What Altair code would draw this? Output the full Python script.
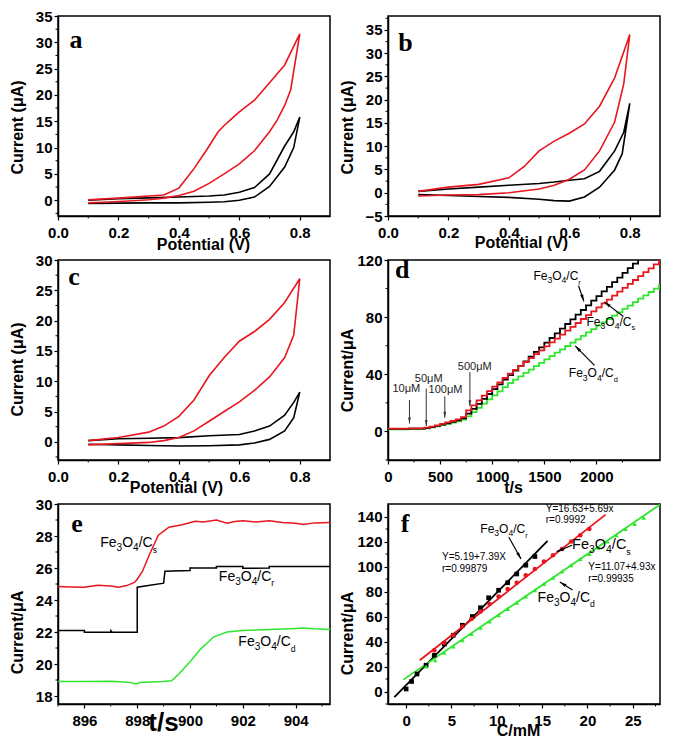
import math
import altair as alt
import pandas as pd

W, H = 272, 200
FONT = "Liberation Sans"
SERIF = "Liberation Serif"
RED = "#e8161e"
GREEN = "#2ee62e"
BLACK = "#000000"
ARROW = "M0,0L0.5,2.2L-0.5,2.2Z"

# ---------------- panel a (CV) ----------------
a_black_fwd_x = [0.10, 0.20, 0.30, 0.40, 0.50, 0.55, 0.60, 0.65, 0.70, 0.75, 0.78, 0.80]
a_black_fwd_y = [-0.6, -0.55, -0.5, -0.5, -0.4, -0.3, 0.0, 0.6, 2.6, 6.3, 10.0, 15.8]
a_black_rev_x = [0.80, 0.78, 0.75, 0.70, 0.65, 0.60, 0.55, 0.50, 0.40, 0.30, 0.20, 0.10]
a_black_rev_y = [15.8, 13.0, 10.3, 5.0, 2.4, 1.5, 1.0, 0.8, 0.6, 0.45, 0.3, 0.0]
a_red_fwd_x = [0.10, 0.15, 0.20, 0.25, 0.30, 0.35, 0.40, 0.45, 0.50, 0.55, 0.60, 0.65, 0.70, 0.725, 0.75, 0.77, 0.80]
a_red_fwd_y = [-0.5, -0.4, -0.25, -0.1, 0.1, 0.4, 0.9, 1.7, 3.2, 5.0, 6.9, 9.4, 13.0, 15.2, 18.0, 21.0, 31.6]
a_red_rev_x = [0.80, 0.75, 0.70, 0.65, 0.60, 0.575, 0.55, 0.53, 0.50, 0.49, 0.45, 0.40, 0.35, 0.30, 0.20, 0.10]
a_red_rev_y = [31.6, 25.7, 22.3, 19.0, 16.8, 15.5, 14.2, 13.0, 10.3, 9.4, 6.0, 2.3, 1.0, 0.8, 0.4, 0.1]

# ---------------- panel b (CV) ----------------
b_black_fwd_x = [0.10, 0.20, 0.30, 0.40, 0.50, 0.55, 0.60, 0.65, 0.70, 0.75, 0.775, 0.80]
b_black_fwd_y = [-0.4, -0.6, -0.8, -1.0, -1.4, -1.7, -1.8, -0.9, 1.2, 4.9, 8.4, 19.2]
b_black_rev_x = [0.80, 0.78, 0.75, 0.70, 0.65, 0.60, 0.55, 0.50, 0.40, 0.30, 0.20, 0.10]
b_black_rev_y = [19.2, 13.0, 9.0, 4.6, 3.0, 2.7, 2.3, 2.0, 1.6, 1.2, 0.8, 0.3]
b_red_fwd_x = [0.10, 0.20, 0.30, 0.40, 0.50, 0.55, 0.60, 0.65, 0.70, 0.75, 0.78, 0.80]
b_red_fwd_y = [-0.7, -0.5, -0.4, 0.0, 0.8, 1.6, 2.9, 4.9, 9.0, 15.2, 23.4, 34.0]
b_red_rev_x = [0.80, 0.75, 0.70, 0.65, 0.60, 0.55, 0.50, 0.45, 0.40, 0.30, 0.20, 0.10]
b_red_rev_y = [34.0, 24.7, 18.6, 14.8, 12.8, 11.1, 9.0, 5.6, 3.2, 1.8, 1.2, 0.3]

# ---------------- panel c (CV) ----------------
c_black_fwd_x = [0.10, 0.20, 0.30, 0.40, 0.50, 0.60, 0.65, 0.70, 0.75, 0.78, 0.80]
c_black_fwd_y = [-0.4, -0.5, -0.6, -0.7, -0.65, -0.5, -0.2, 0.4, 1.8, 4.0, 8.2]
c_black_rev_x = [0.80, 0.78, 0.75, 0.70, 0.65, 0.60, 0.50, 0.40, 0.30, 0.20, 0.10]
c_black_rev_y = [8.2, 6.5, 4.4, 2.6, 1.8, 1.2, 1.0, 0.7, 0.6, 0.5, 0.2]
c_red_fwd_x = [0.10, 0.20, 0.30, 0.35, 0.40, 0.45, 0.50, 0.55, 0.60, 0.65, 0.70, 0.75, 0.78, 0.80]
c_red_fwd_y = [-0.5, -0.3, -0.1, 0.2, 0.7, 1.8, 3.4, 5.0, 6.6, 8.5, 10.7, 13.9, 17.6, 26.9]
c_red_rev_x = [0.80, 0.75, 0.70, 0.65, 0.60, 0.55, 0.50, 0.45, 0.40, 0.35, 0.30, 0.20, 0.10]
c_red_rev_y = [26.9, 23.0, 20.2, 18.2, 16.6, 13.9, 10.9, 6.9, 4.2, 2.6, 1.6, 0.7, 0.2]

# ---------------- panel d (amperometric i-t) ----------------
d_t = [0, 200, 350, 400, 450, 500, 550, 600, 650, 700, 750, 800, 850, 900, 950, 1000,
       1050, 1100, 1150, 1200, 1250, 1300, 1350, 1400, 1450, 1500, 1550, 1600, 1650,
       1700, 1750, 1800, 1850, 1900, 1950, 2000, 2050, 2100, 2150, 2200, 2250, 2300,
       2350, 2400, 2450, 2500, 2550, 2600, 2610]
d_black = [1.8, 2.0, 2.4, 3.1, 3.9, 4.8, 5.7, 6.7, 7.8, 9.2, 12.5, 15.8, 19.3, 22.8, 26.2,
           29.6, 32.9, 36.2, 39.4, 42.6, 45.9, 49.1, 52.4, 55.7, 58.9, 62.2, 65.4, 68.7,
           71.9, 75.2, 78.4, 81.7, 85.0, 88.2, 91.5, 94.7, 98.0, 101.2, 104.5, 107.7,
           111.0, 114.3, 117.5, 120.8, 124.0, 127.3, 130.5, 133.8, 133.8]
d_red = [2.0, 2.1, 2.6, 3.4, 4.3, 5.3, 6.3, 7.3, 8.5, 10.0, 14.8, 18.3, 21.7, 25.0, 28.2,
         31.3, 34.4, 37.4, 40.4, 43.1, 45.9, 48.6, 51.3, 54.1, 56.8, 59.5, 62.3, 65.0,
         67.7, 70.5, 73.2, 75.9, 78.7, 81.4, 84.1, 86.9, 89.6, 92.3, 95.1, 97.8, 100.5,
         103.3, 106.0, 108.7, 111.5, 114.2, 116.9, 119.7, 119.7]
d_green = [1.5, 1.7, 2.1, 2.8, 3.6, 4.4, 5.3, 6.2, 7.0, 8.3, 10.5, 13.5, 16.5, 19.5, 22.4,
           25.3, 28.1, 31.0, 33.8, 36.2, 38.6, 41.0, 43.3, 45.7, 48.0, 50.4, 52.7, 55.1,
           57.5, 59.8, 62.2, 64.5, 66.9, 69.3, 71.6, 74.0, 76.3, 78.7, 81.1, 83.4, 85.8,
           88.1, 90.5, 92.9, 95.2, 97.6, 99.9, 102.3, 102.3]
d_conc_text = ["10\u03bcM", "50\u03bcM", "100\u03bcM", "500\u03bcM"]
d_conc_text_t = [176, 391, 552, 832]
d_conc_text_v = [29.5, 37, 29, 45]
d_conc_arrow_t = [206, 367, 545, 786]
d_conc_arrow_top = [22, 30, 24.5, 41.6]
d_conc_arrow_tip = [5.5, 3.8, 9.6, 17.6]

# ---------------- panel e (response time) ----------------
e_red_t = [895, 895.5, 896, 896.5, 897, 897.3, 897.6, 897.9, 898.0, 898.2, 898.45, 898.8,
           899.2, 899.7, 900.2, 900.5, 901, 901.4, 901.7, 902, 902.5, 903, 903.5, 904,
           904.3, 904.7, 905.3]
e_red_v = [24.85, 24.82, 24.8, 24.92, 24.88, 24.8, 24.9, 25.1, 25.3, 25.8, 26.8, 28.05,
           28.55, 28.7, 28.92, 28.88, 29.0, 28.8, 28.9, 28.95, 28.88, 28.95, 28.85, 28.8,
           28.72, 28.82, 28.85]
e_black_t = [895, 896, 896, 897, 897, 897.05, 898, 898, 899, 899.05, 900, 900, 901, 901,
             902, 902, 903, 903, 905.3]
e_black_v = [22.1, 22.1, 21.98, 21.98, 22.08, 21.98, 21.98, 24.8, 25.05, 25.8, 25.85, 26.0,
             26.0, 26.1, 26.1, 25.98, 26.0, 26.1, 26.1]
e_green_t = [895, 896, 897, 897.5, 897.8, 897.95, 898.1, 898.5, 899, 899.3, 899.56, 900,
             900.4, 900.9, 901.4, 902, 902.5, 903, 903.5, 904, 904.3, 904.7, 905.3]
e_green_v = [18.9, 18.9, 18.92, 18.88, 18.82, 18.75, 18.85, 18.88, 18.9, 18.95, 19.35,
             20.14, 20.93, 21.7, 22.0, 22.1, 22.12, 22.15, 22.18, 22.22, 22.25, 22.2, 22.15]

# ---------------- panel f (calibration) ----------------
f_black_c = [0, 0.6, 1.2, 2.2, 3.1, 4.2, 5.2, 6.2, 7.3, 8.2, 9.1, 10.2, 11.2, 12.2, 13.2, 14.2]
f_black_i = [2, 8, 14, 21, 29, 38, 45, 53, 60, 67, 75, 81, 87, 94, 101, 108]
f_red_c = [3.1, 4.2, 5.2, 6.2, 7.2, 8.2, 9.2, 10.2, 11.2, 12.2, 13.2, 14.2, 15.2, 16.2,
           17.2, 18.2, 19.2, 20.2]
f_red_i = [33, 39, 45, 52, 58, 64, 70, 76, 82, 87, 93, 98, 104, 109, 114, 120, 125, 130]
f_green_c = [2.2, 3.2, 4.2, 5.2, 6.2, 7.2, 8.2, 9.2, 10.2, 11.2, 12.2, 13.2, 14.2, 15.2,
             16.2, 17.2, 18.2, 19.2, 20.2, 21.2, 22.2, 23.2, 24.2, 25.2, 26.2]
f_green_i = [20, 25, 31, 36, 41, 46, 51, 56, 61, 66, 71, 76, 81, 86, 91, 96, 101, 106, 110,
             115, 120, 125, 130, 134, 139]
f_fit_black_c = [-1.3, 15.6]
f_fit_black_i = [-4.5, 120.5]
f_fit_red_c = [1.5, 22.0]
f_fit_red_i = [25.0, 141.5]
f_fit_green_c = [-0.3, 28.0]
f_fit_green_i = [9.5, 149.5]

COLOR = alt.Color("s:N", scale=alt.Scale(domain=["black", "red", "green"],
                                          range=[BLACK, RED, GREEN]), legend=None)


def lines_df(items):
    rows = []
    for name, xs, ys in items:
        for i, (x, y) in enumerate(zip(xs, ys)):
            rows.append({"x": x, "y": y, "s": name, "o": i})
    return pd.DataFrame(rows)


class Panel:
    """One plot panel; every layer carries the same explicit axis definition
    so that Vega-Lite merges them into a single axis."""

    def __init__(self, xdom, ydom, xvals, yvals, xfmt, xtitle, ytitle, xt_pos, yt_y,
                 xminor, yminor, xt_size=16):
        self.xs = alt.Scale(domain=xdom, nice=False, zero=False)
        self.ys = alt.Scale(domain=ydom, nice=False, zero=False)
        self.sx = W / (xdom[1] - xdom[0])
        self.sy = H / (ydom[1] - ydom[0])
        self.xaxis = alt.Axis(values=xvals, format=xfmt, title=xtitle, titleX=xt_pos[0],
                              titleY=xt_pos[1], titleBaseline="top", titleAlign="center",
                              titleFontSize=xt_size)
        self.yaxis = alt.Axis(values=yvals, format="d", title=ytitle, titleX=-33,
                              titleY=yt_y, titleBaseline="bottom", titleAlign="center")
        self.layers = []
        self.layers.append(alt.Chart(pd.DataFrame({"x": xminor})).mark_rule(
            color="black", strokeWidth=1).encode(x=self.X(), y=alt.value(H),
                                                 y2=alt.value(H + 2.5)))
        self.layers.append(alt.Chart(pd.DataFrame({"y": yminor})).mark_rule(
            color="black", strokeWidth=1).encode(y=self.Y(), x=alt.value(-2.5),
                                                 x2=alt.value(0)))

    def X(self, f="x"):
        return alt.X(f + ":Q", scale=self.xs, axis=self.xaxis)

    def Y(self, f="y"):
        return alt.Y(f + ":Q", scale=self.ys, axis=self.yaxis)

    def lines(self, items, width=1.6, interp="linear"):
        self.layers.append(alt.Chart(lines_df(items)).mark_line(
            strokeWidth=width, interpolate=interp, clip=True).encode(
            x=self.X(), y=self.Y(), color=COLOR, order="o:Q", detail="s:N"))

    def letter(self, x, y, t):
        self.layers.append(alt.Chart(pd.DataFrame({"x": [x], "y": [y]})).mark_text(
            text=t, font=SERIF, fontWeight="bold", fontSize=26, align="left",
            baseline="alphabetic", color="black").encode(x=self.X(), y=self.Y()))

    def text(self, x, y, t, size, align="left", baseline="alphabetic", color="black"):
        self.layers.append(alt.Chart(pd.DataFrame({"x": [x], "y": [y]})).mark_text(
            text=t, font=FONT, fontSize=size, align=align, baseline=baseline,
            color=color).encode(x=self.X(), y=self.Y()))

    def fe_label(self, x, y, sub, size):
        ss = size * 0.72
        o3 = 1.167 * size
        oO = o3 + 0.556 * ss
        o4 = oO + 0.778 * size
        oC = o4 + 0.556 * ss
        osub = oC + 1.0 * size
        parts = [("Fe", 0, size, 0), ("3", o3, ss, 0.28 * size), ("O", oO, size, 0),
                 ("4", o4, ss, 0.28 * size), ("/C", oC, size, 0),
                 (sub, osub, size * 0.62, 0.38 * size)]
        df = pd.DataFrame({"x": [x], "y": [y]})
        for t, dx, fs, dy in parts:
            self.layers.append(alt.Chart(df).mark_text(
                text=t, dx=dx, dy=dy, fontSize=fs, font=FONT, align="left",
                baseline="alphabetic", color="black").encode(x=self.X(), y=self.Y()))

    def arrows(self, x1, y1, x2, y2, color="black", width=1.2, head=40):
        ang = []
        for a, b, c, d in zip(x1, y1, x2, y2):
            dxs = (c - a) * self.sx
            dys = -(d - b) * self.sy
            ang.append(math.degrees(math.atan2(dxs, -dys)) % 360)
        df = pd.DataFrame({"x": x1, "y": y1, "x2": x2, "y2": y2, "a": ang})
        self.layers.append(alt.Chart(df).mark_rule(color=color, strokeWidth=width).encode(
            x=self.X(), y=self.Y(), x2="x2:Q", y2="y2:Q"))
        self.layers.append(alt.Chart(df).mark_point(
            shape=ARROW, filled=True, size=head, color=color, opacity=1, strokeWidth=0).encode(
            x=self.X("x2"), y=self.Y("y2"), angle=alt.Angle("a:Q", scale=None)))

    def chart(self):
        return alt.layer(*self.layers).properties(width=W, height=H)


cv_x = [0.0, 0.2, 0.4, 0.6, 0.8]
cv_xminor = [0.1, 0.3, 0.5, 0.7]

# a
pa = Panel([0, 0.9], [-3, 35], cv_x, [0, 5, 10, 15, 20, 25, 30, 35], ".1f",
           "Potential (V)", "Current (\u03bcA)", (145, 20), 111, cv_xminor,
           [-2.5, 2.5, 7.5, 12.5, 17.5, 22.5, 27.5, 32.5])
pa.lines([("black", a_black_fwd_x + a_black_rev_x, a_black_fwd_y + a_black_rev_y),
          ("red", a_red_fwd_x + a_red_rev_x, a_red_fwd_y + a_red_rev_y)])
pa.letter(0.038, 29, "a")

# b
pb = Panel([0, 0.9], [-5, 38], cv_x, [-5, 0, 5, 10, 15, 20, 25, 30, 35], ".1f",
           "Potential (V)", "Current (\u03bcA)", (133, 18), 111, cv_xminor,
           [-2.5, 2.5, 7.5, 12.5, 17.5, 22.5, 27.5, 32.5, 37.5])
pb.lines([("black", b_black_fwd_x + b_black_rev_x, b_black_fwd_y + b_black_rev_y),
          ("red", b_red_fwd_x + b_red_rev_x, b_red_fwd_y + b_red_rev_y)])
pb.letter(0.034, 30.5, "b")

# c
pc = Panel([0, 0.9], [-3, 30], cv_x, [0, 5, 10, 15, 20, 25, 30], ".1f",
           "Potential (V)", "Current (\u03bcA)", (118, 19), 109, cv_xminor,
           [-2.5, 2.5, 7.5, 12.5, 17.5, 22.5, 27.5])
pc.lines([("black", c_black_fwd_x + c_black_rev_x, c_black_fwd_y + c_black_rev_y),
          ("red", c_red_fwd_x + c_red_rev_x, c_red_fwd_y + c_red_rev_y)])
pc.letter(0.034, 25.9, "c")

# d
pdd = Panel([0, 2610], [-20, 120], [0, 500, 1000, 1500, 2000], [0, 40, 80, 120], "d",
            "t/s", "Current/\u03bcA", (125, 19), 110, [250, 750, 1250, 1750, 2250],
            [-20, 20, 60, 100])
pdd.lines([("green", d_t, d_green), ("black", d_t, d_black), ("red", d_t, d_red)],
          width=1.8, interp="step-after")
pdd.arrows(d_conc_arrow_t, d_conc_arrow_top, d_conc_arrow_t, d_conc_arrow_tip,
           color="#333333", width=1.0, head=30)
for t, x, y in zip(d_conc_text, d_conc_text_t, d_conc_text_v):
    pdd.text(x, y, t, 11, align="center", baseline="middle", color="#222222")
pdd.fe_label(1395, 106, "r", 12)
pdd.fe_label(1905, 74, "s", 12)
pdd.fe_label(1735, 38, "d", 12)
pdd.arrows([1828, 2259, 1981], [102, 80.5, 46.2], [1880, 2074, 1796], [91, 90.7, 59.9])
pdd.letter(68, 107.4, "d")

# e
pe = Panel([895, 905.3], [17.5, 30], [896, 898, 900, 902, 904], [18, 20, 22, 24, 26, 28, 30],
           "d", "t/s", "Current/\u03bcA", (105, 5), 128, [895, 897, 899, 901, 903, 905],
           [19, 21, 23, 25, 27, 29], xt_size=26)
pe.lines([("red", e_red_t, e_red_v), ("black", e_black_t, e_black_v),
          ("green", e_green_t, e_green_v)], width=1.5)
pe.fe_label(896.6, 27.3, "s", 14)
pe.fe_label(901.09, 25.2, "r", 14)
pe.fe_label(901.83, 21.1, "d", 14)
pe.letter(895.5, 28.26, "e")

# f
pf = Panel([-2, 28], [-10, 150], [0, 5, 10, 15, 20, 25], [0, 20, 40, 60, 80, 100, 120, 140],
           "d", "C/mM", "Current/\u03bcA", (130, 18), 129,
           [2.5, 7.5, 12.5, 17.5, 22.5, 27.5], [-10, 10, 30, 50, 70, 90, 110, 130])
pf.lines([("black", f_fit_black_c, f_fit_black_i), ("red", f_fit_red_c, f_fit_red_i),
          ("green", f_fit_green_c, f_fit_green_i)], width=1.8)
for name, xs, ys, shape in [("black", f_black_c, f_black_i, "square"),
                            ("red", f_red_c, f_red_i, "circle"),
                            ("green", f_green_c, f_green_i, "triangle-up")]:
    pf.layers.append(alt.Chart(lines_df([(name, xs, ys)])).mark_point(
        shape=shape, filled=True, size=22, opacity=1).encode(
        x=pf.X(), y=pf.Y(), color=COLOR))
pf.text(3.96, 105.5, "Y=5.19+7.39X", 10)
pf.text(3.96, 96, "r=0.99879", 10)
pf.text(15.4, 143.5, "Y=16.63+5.69x", 10)
pf.text(15.4, 134.5, "r=0.9992", 10)
pf.text(20.1, 97, "Y=11.07+4.93x", 10)
pf.text(20.1, 87.5, "r=0.99935", 10)
pf.fe_label(8.18, 126.7, "r", 12)
pf.fe_label(18.3, 114, "s", 14.5)
pf.fe_label(14.5, 71.5, "d", 14)
pf.arrows([11.33, 18.3, 18.35], [123.4, 117, 81.2], [12.67, 16.6, 16.95], [106, 111.9, 87.6])
pf.letter(-0.6, 128, "f")

chart = alt.concat(pa.chart(), pb.chart(), pc.chart(), pdd.chart(), pe.chart(), pf.chart(),
                   columns=2, spacing={"row": 44, "column": 58}, bounds="flush").properties(
    padding={"left": 0, "top": 0, "right": 2, "bottom": 0}
).configure_view(stroke="black", strokeWidth=1.5).configure_axis(
    grid=False, tickSize=4, tickColor="black", tickWidth=1.2, domainColor="black",
    domainWidth=1.5, labelFont=FONT, labelFontWeight="bold", labelFontSize=15,
    labelColor="black", titleFont=FONT, titleFontWeight="bold", titleFontSize=16,
    titleColor="black", labelFlush=False, labelOverlap=False
).configure_axisX(labelPadding=5).configure_axisY(labelPadding=2)

chart.save("out.html", embed_options={"renderer": "svg", "actions": False})
